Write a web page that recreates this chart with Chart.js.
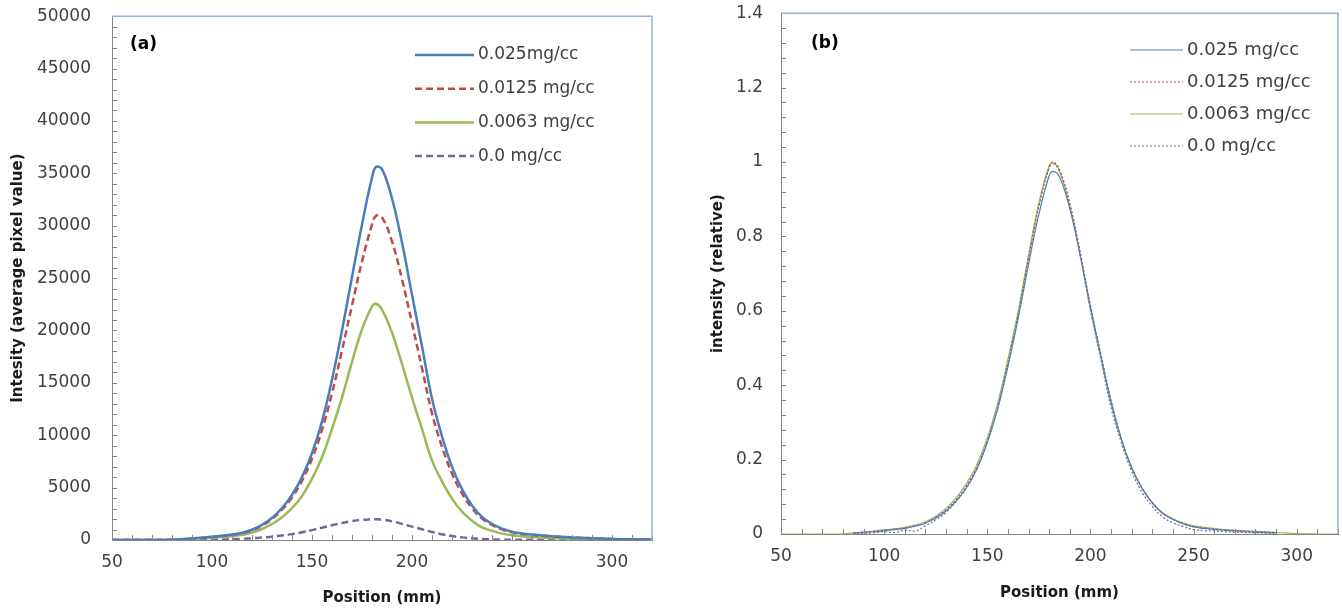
<!DOCTYPE html>
<html>
<head>
<meta charset="utf-8">
<script src="https://cdn.jsdelivr.net/npm/chart.js@4.4.1/dist/chart.umd.min.js"></script>
<style>
  html, body { margin: 0; padding: 0; background: #fff; overflow: hidden; }
  #wrapA { position: absolute; left: 0; top: -15px; width: 660px; height: 630px; }
  #wrapB { position: absolute; left: 660px; top: -15px; width: 682px; height: 630px; }
</style>
</head>
<body>
<div id="wrapA"><canvas id="chartA"></canvas></div>
<div id="wrapB"><canvas id="chartB"></canvas></div>
<script>
// positions along the profile (mm)
const positions = [50, 60, 70, 80, 85, 90, 95, 100, 105, 110, 115, 120, 125, 130, 135, 140, 145, 150, 155, 160,
  165, 170, 175, 180, 182, 185, 190, 195, 200, 205, 210, 215, 220, 225, 230, 235, 240, 245, 250, 255,
  260, 265, 270, 280, 290, 300, 310, 320];

const seriesLabelsA = ["0.025mg/cc", "0.0125 mg/cc", "0.0063 mg/cc", "0.0 mg/cc"];
const seriesLabelsB = ["0.025 mg/cc", "0.0125 mg/cc", "0.0063 mg/cc", "0.0 mg/cc"];

// (a) raw intensity, average pixel value
const blueA = [0, 0, 0, 30, 80, 150, 220, 300, 400, 520, 700, 980, 1450, 2100, 3050, 4300, 6000, 8300, 11300, 15300,
  20000, 25100, 30100, 34600, 35600, 35400, 32600, 28400, 23400, 18500, 13500, 9900, 7000, 4850, 3300, 2200, 1550, 1080, 800, 620,
  520, 440, 370, 250, 170, 100, 60, 40];
const redA = [0, 0, 0, 30, 80, 150, 210, 280, 380, 490, 660, 930, 1380, 2000, 2900, 4050, 5650, 7750, 10500, 14000,
  18100, 22400, 26600, 30100, 30950, 30800, 28500, 24900, 20700, 16400, 12100, 8900, 6350, 4450, 3050, 2050, 1450, 1000, 740, 580,
  480, 410, 340, 240, 160, 100, 60, 40];
const greenA = [0, 0, 0, 20, 60, 110, 160, 220, 290, 360, 500, 700, 1050, 1530, 2180, 3040, 4190, 5850, 7900, 10600,
  13600, 17000, 20100, 22300, 22550, 22000, 19800, 16800, 13600, 10600, 7600, 5600, 3950, 2700, 1850, 1200, 880, 610, 450, 360,
  290, 240, 200, 140, 90, 50, 30, 20];
const purpleA = [0, 0, 0, 0, 0, 10, 20, 30, 45, 70, 110, 160, 230, 320, 430, 560, 740, 940, 1170, 1400,
  1620, 1800, 1930, 1980, 1990, 1950, 1780, 1540, 1280, 1020, 770, 550, 380, 250, 160, 100, 60, 40, 30, 20,
  15, 10, 10, 5, 0, 0, 0, 0];

// (b) relative intensity
const blueB = [null, null, null, null, 0.002, 0.004, 0.006, 0.009, 0.012, 0.015, 0.021, 0.029, 0.043, 0.062, 0.089, 0.125, 0.175, 0.245, 0.335, 0.45,
  0.58, 0.725, 0.86, 0.963, 0.975, 0.96, 0.875, 0.75, 0.61, 0.48, 0.355, 0.255, 0.178, 0.123, 0.083, 0.055, 0.039, 0.027, 0.019, 0.015,
  0.012, 0.01, 0.008, 0.005, 0.003, null, null, null];
const redB = [null, null, null, null, 0.003, 0.005, 0.007, 0.01, 0.013, 0.016, 0.022, 0.03, 0.045, 0.065, 0.093, 0.13, 0.18, 0.25, 0.34, 0.46,
  0.59, 0.74, 0.88, 0.985, 1.0, 0.98, 0.89, 0.76, 0.615, 0.485, 0.36, 0.255, 0.18, 0.125, 0.085, 0.056, 0.04, 0.028, 0.02, 0.016,
  0.013, 0.011, 0.009, 0.006, 0.004, null, null, null];
const greenB = [0, 0, 0, 0, 0.003, 0.005, 0.008, 0.011, 0.014, 0.018, 0.024, 0.033, 0.048, 0.069, 0.098, 0.136, 0.187, 0.258, 0.35, 0.47,
  0.6, 0.75, 0.89, 0.99, 0.998, 0.975, 0.88, 0.75, 0.605, 0.475, 0.35, 0.252, 0.176, 0.122, 0.084, 0.057, 0.041, 0.03, 0.022, 0.018,
  0.015, 0.012, 0.01, 0.007, 0.004, 0.001, 0, 0];
const purpleB = [null, null, null, null, 0.0, 0.002, 0.003, 0.006, 0.004, 0.01, 0.008, 0.022, 0.038, 0.058, 0.088, 0.125, 0.178, 0.25, 0.345, 0.465,
  0.595, 0.745, 0.885, 0.985, 0.995, 0.975, 0.885, 0.75, 0.6, 0.47, 0.34, 0.245, 0.168, 0.112, 0.074, 0.046, 0.03, 0.02, 0.012, 0.009,
  0.008, 0.006, 0.005, 0.003, 0.002, null, null, null];

const colours = ["#4a7ebb", "#be4b48", "#98b954", "#7d60a0"];
const textColour = "#404040";
const axisColour = "#868686";
const frameColour = "#8db3e2";

function pts(values) {
  return positions.map((p, i) => ({ x: p, y: values[i] }));
}

// tick marks drawn inside the plot area, plus the blue top/right frame
const innerTicks = {
  id: "innerTicks",
  afterDatasetsDraw(chart, args, opts) {
    const { ctx, chartArea: a, scales: { x, y } } = chart;
    ctx.save();
    ctx.strokeStyle = axisColour;
    ctx.lineWidth = 1;
    ctx.beginPath();
    for (let i = 0; ; i++) {
      const v = x.min + i * opts.xMinor;
      if (v > x.max + 1e-9) break;
      const px = Math.round(x.getPixelForValue(v)) + 0.5;
      ctx.moveTo(px, a.bottom);
      ctx.lineTo(px, a.bottom - 5);
    }
    for (let i = 0; ; i++) {
      const v = y.min + i * opts.yMinor;
      if (v > y.max + 1e-9) break;
      const py = Math.round(y.getPixelForValue(v)) + 0.5;
      ctx.moveTo(a.left, py);
      ctx.lineTo(a.left + 5, py);
    }
    ctx.stroke();

    ctx.strokeStyle = frameColour;
    ctx.lineWidth = 1.5;
    ctx.beginPath();
    ctx.moveTo(a.left, a.top);
    ctx.lineTo(a.right, a.top);
    ctx.lineTo(a.right, a.bottom);
    ctx.stroke();

    // panel tag
    ctx.fillStyle = "#000";
    ctx.font = "bold 17px 'DejaVu Sans'";
    ctx.textBaseline = "middle";
    ctx.fillText(opts.tag, a.left + opts.tagDx, a.top + opts.tagDy);
    ctx.restore();
  }
};

// legend drawn inside the plot area
const innerLegend = {
  id: "innerLegend",
  afterDraw(chart, args, opts) {
    const { ctx } = chart;
    ctx.save();
    ctx.font = opts.font;
    ctx.textBaseline = "middle";
    chart.data.datasets.forEach((ds, i) => {
      const yy = opts.y0 + i * opts.dy;
      ctx.strokeStyle = ds.borderColor;
      ctx.lineWidth = ds.borderWidth;
      ctx.setLineDash(ds.borderDash || []);
      ctx.beginPath();
      ctx.moveTo(opts.x0, yy);
      ctx.lineTo(opts.x1, yy);
      ctx.stroke();
      ctx.setLineDash([]);
      ctx.fillStyle = textColour;
      ctx.fillText(ds.label, opts.tx, yy);
    });
    ctx.restore();
  }
};

function makeChart(id, cfg) {
  const tickFont = { family: "DejaVu Sans", size: 17 };
  const titleFont = { family: "DejaVu Sans", size: 15, weight: "bold" };
  return new Chart(document.getElementById(id), {
    type: "line",
    data: { datasets: cfg.datasets },
    options: {
      responsive: true,
      maintainAspectRatio: false,
      animation: false,
      layout: { padding: { top: 0, right: cfg.padRight, left: 0, bottom: 0 } },
      elements: { point: { radius: 0 }, line: { tension: 0.4 } },
      scales: {
        x: {
          type: "linear",
          min: 50,
          max: 320,
          afterFit: (s) => { s.height = cfg.xHeight; },
          grid: { display: false, drawTicks: false },
          border: { display: true, color: axisColour, width: 1 },
          ticks: {
            stepSize: 50,
            includeBounds: false,
            autoSkip: false,
            maxRotation: 0,
            padding: 12,
            color: textColour,
            font: tickFont,
            callback: (v) => (v % 50 === 0 ? String(v) : "")
          },
          title: {
            display: true,
            text: "Position (mm)",
            color: "#1a1a1a",
            font: titleFont,
            padding: { top: 0, bottom: cfg.xTitlePad }
          }
        },
        y: {
          min: 0,
          max: cfg.yMax,
          afterFit: (s) => { s.width = cfg.yWidth; },
          grid: { display: false, drawTicks: false },
          border: { display: true, color: axisColour, width: 1 },
          ticks: {
            stepSize: cfg.yStep,
            autoSkip: false,
            padding: cfg.yTickPad,
            color: textColour,
            font: tickFont,
            callback: cfg.yFormat
          },
          title: {
            display: true,
            text: cfg.yTitle,
            color: "#1a1a1a",
            font: titleFont,
            padding: { top: cfg.yTitlePad, bottom: 0 }
          }
        }
      },
      plugins: {
        legend: { display: false },
        tooltip: { enabled: false },
        innerTicks: cfg.ticks,
        innerLegend: cfg.legend
      }
    },
    plugins: [innerTicks, innerLegend]
  });
}

makeChart("chartA", {
  datasets: [
    { label: seriesLabelsA[0], data: pts(blueA), borderColor: colours[0], borderWidth: 2.5 },
    { label: seriesLabelsA[1], data: pts(redA), borderColor: colours[1], borderWidth: 2.5, borderDash: [7, 4] },
    { label: seriesLabelsA[2], data: pts(greenA), borderColor: colours[2], borderWidth: 2.5 },
    { label: seriesLabelsA[3], data: pts(purpleA), borderColor: colours[3], borderWidth: 2.5, borderDash: [7, 4] }
  ],
  padRight: 8, xHeight: 75, yWidth: 112,
  xTitlePad: 8, yTitlePad: 9, yTickPad: 21,
  yMax: 50000, yStep: 5000, yFormat: (v) => String(v),
  yTitle: "Intesity (average pixel value)",
  ticks: { xMinor: 10, yMinor: 1000, tag: "(a)", tagDx: 18, tagDy: 28 },
  legend: { x0: 415, x1: 474, tx: 478, y0: 70, dy: 33.7, font: "17px 'DejaVu Sans'" }
});

makeChart("chartB", {
  datasets: [
    { label: seriesLabelsB[0], data: pts(blueB), borderColor: colours[0], borderWidth: 1.2 },
    { label: seriesLabelsB[1], data: pts(redB), borderColor: colours[1], borderWidth: 1.2, borderDash: [2, 2] },
    { label: seriesLabelsB[2], data: pts(greenB), borderColor: colours[2], borderWidth: 1.2 },
    { label: seriesLabelsB[3], data: pts(purpleB), borderColor: colours[3], borderWidth: 1.2, borderDash: [2, 2] }
  ],
  padRight: 4, xHeight: 81, yWidth: 121,
  xTitlePad: 13, yTitlePad: 49, yTickPad: 18,
  yMax: 1.4, yStep: 0.2, yFormat: (v) => String(Math.round(v * 10) / 10),
  yTitle: "intensity (relative)",
  ticks: { xMinor: 10, yMinor: 0.04, tag: "(b)", tagDx: 30, tagDy: 30 },
  legend: { x0: 470, x1: 523, tx: 527, y0: 65, dy: 32, font: "18px 'DejaVu Sans'" }
});
</script>
</body>
</html>
